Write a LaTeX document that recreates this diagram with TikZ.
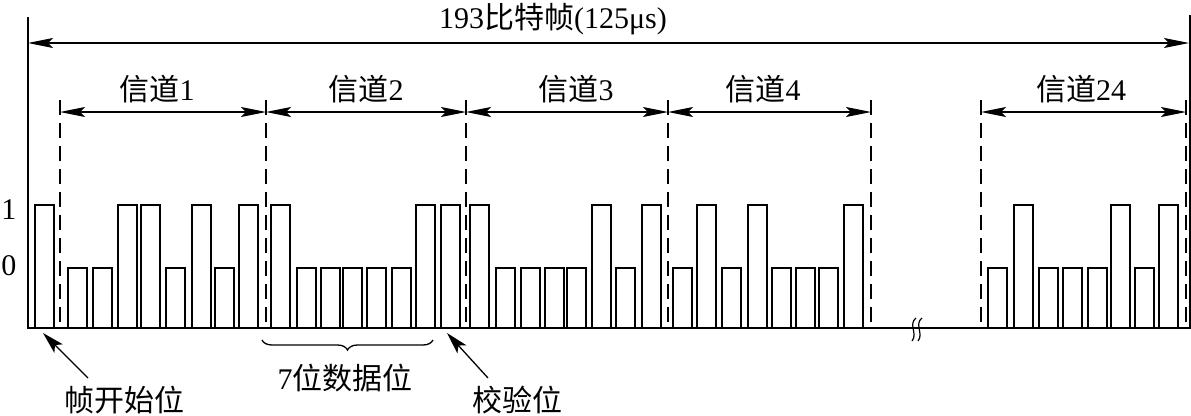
\documentclass[tikz,border=0pt]{standalone}
\usepackage{fontspec}
\setmainfont{Liberation Serif}
\newfontfamily\cjk{Noto Sans CJK SC}
\usetikzlibrary{arrows.meta,decorations.pathreplacing}
\begin{document}
\begin{tikzpicture}[x=1pt,y=-1pt,
  bitbar/.style={line width=2.6pt, line join=miter},
  axisline/.style={line width=2pt},
  divline/.style={line width=1.4pt, dash pattern=on 15pt off 8pt},
  dim/.style={line width=1.3pt, {Stealth[length=25pt,width=10pt,inset=5pt]}-{Stealth[length=25pt,width=10pt,inset=5pt]}},
  txt/.style={font=\fontsize{30}{33}\selectfont, inner sep=0pt},
  pointer/.style={line width=1.3pt, -{Stealth[length=22pt,width=12pt,inset=5pt]}},
  bracestyle/.style={line width=1.3pt, decorate, decoration={brace, mirror, amplitude=10pt}}]
\useasboundingbox (0,0) rectangle (1191,415);

% frame boundaries
\coordinate (L0) at (28,17);
\coordinate (L1) at (28,329);
\coordinate (R0) at (1189.5,15);
\coordinate (R1) at (1189.5,329);
\draw[axisline] (L0) -- (L1);
\draw[axisline] (R0) -- (R1);

% baseline
\coordinate (B0) at (28,328);
\coordinate (B1) at (1190,328);
\draw[bitbar] (B0) -- (B1);

% bars
\foreach \x/\t in {35/205,
  68/268, 93/268, 118/205, 141/205, 166/268, 192/205, 215/268, 239/205,
  271/205, 297/268, 321/268, 343/268, 367/268, 392/268, 416/205, 441/205,
  470/205, 496/268, 521/268, 545/268, 567/268, 592/205, 616/268, 642/205,
  673/268, 697/205, 722/268, 748/205, 772/268, 796/268, 819/268, 844/205,
  988/268, 1014/205, 1039/268, 1063/268, 1088/268, 1111/205, 1135/268, 1159/205}
  \draw[bitbar] (\x,328) -- (\x,\t) -- ({\x+19},\t) -- ({\x+19},328);

% dashed channel boundaries
\foreach \n/\x in {d1/60, d2/266, d3/466, d4/668, d5/871, d6/981, d7/1186} {
  \coordinate (\n) at (\x,112);
  \draw[divline] (\x,100) -- (\x,326);
}

% total frame arrow
\coordinate (T0) at (28,43);
\coordinate (T1) at (1189,43);
\draw[dim] (T0) -- (T1);
\node[txt] (title) at (553,19) {193{\cjk 比特帧}(125μs)};

% channel arrows
\draw[dim] (d1) -- (d2);
\draw[dim] (d2) -- (d3);
\draw[dim] (d3) -- (d4);
\draw[dim] (d4) -- (d5);
\draw[dim] (d6) -- (d7);
\node[txt] (c1) at (157,89) {{\cjk 信道}1};
\node[txt] (c2) at (366,89) {{\cjk 信道}2};
\node[txt] (c3) at (576,89) {{\cjk 信道}3};
\node[txt] (c4) at (763,89) {{\cjk 信道}4};
\node[txt] (c24) at (1081,89) {{\cjk 信道}24};

% level labels
\node[txt] (one) at (9,210) {1};
\node[txt] (zero) at (9,266) {0};

% break mark
\draw[line width=1.2pt] (916,318) .. controls (908,324) and (918,334) .. (912,341);
\draw[line width=1.2pt] (922,318) .. controls (914,324) and (924,334) .. (918,341);

% bottom annotations
\coordinate (fs) at (43,333);
\coordinate (fsT) at (88,378);
\draw[pointer] (fsT) -- (fs);
\node[txt] (frs) at (124,400) {\cjk 帧开始位};

\coordinate (br0) at (262,340);
\coordinate (br1) at (433,340);
\draw[bracestyle] (br0) -- (br1);
\node[txt] (data) at (345,378) {7{\cjk 位数据位}};

\coordinate (ck) at (447,333);
\coordinate (ckT) at (488,378);
\draw[pointer] (ckT) -- (ck);
\node[txt] (chk) at (517,400) {\cjk 校验位};
\end{tikzpicture}
\end{document}
